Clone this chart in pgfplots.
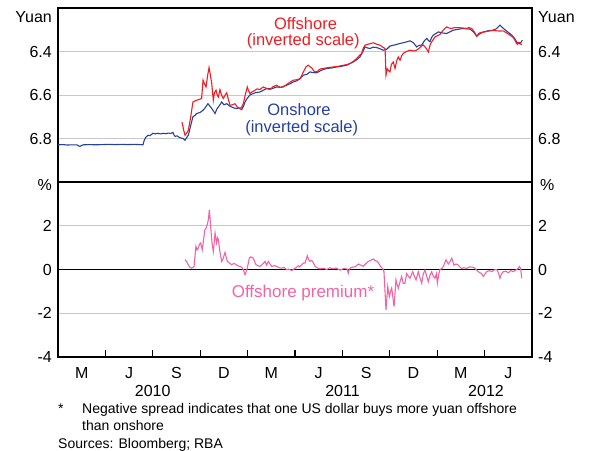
\documentclass[border=0pt]{standalone}
\usepackage{fontspec}
\setmainfont{Liberation Sans}
\usepackage{pgfplots}
\pgfplotsset{compat=1.18}
\definecolor{offred}{RGB}{238,29,35}
\definecolor{onblue}{RGB}{38,64,160}
\definecolor{prpink}{RGB}{240,100,165}
\definecolor{gridgray}{RGB}{200,200,200}
\newcommand{\tickfont}{\fontsize{16}{18}\selectfont}
\newcommand{\lblfont}{\fontsize{16.5}{19}\selectfont}
\newcommand{\notefont}{\fontsize{14}{16}\selectfont}
\begin{document}
\begin{tikzpicture}[x=1pt,y=1pt]
\path[use as bounding box] (0,0) rectangle (589,450);
\pgfplotsset{
  panel/.style={
    scale only axis, width=474pt, xmin=0, xmax=30,
    axis line style={line width=1.1pt},
    ytick style={draw=none},
    major tick length=0pt,
    yticklabel style={font=\tickfont, anchor=east, inner sep=0pt, xshift=-6pt},
    ymajorgrids, grid style={gridgray, line width=0.9pt},
    clip=false,
  },
  rpanel/.style={
    scale only axis, width=474pt, xmin=0, xmax=30,
    axis x line=none, axis y line*=right,
    axis line style={line width=1.1pt},
    ytick style={draw=none},
    major tick length=0pt,
    yticklabel style={font=\tickfont, anchor=west, inner sep=0pt, xshift=6pt},
  },
}
% ---------------- top panel ----------------
\begin{axis}[panel, at={(58pt,268pt)}, anchor=south west, height=174pt,
  ymin=6.2, ymax=7.0, y dir=reverse,
  ytick={6.4,6.6,6.8}, yticklabels={6.4,6.6,6.8}, xtick=\empty]
\addplot[onblue, line width=1.1pt] coordinates {
(0,6.829) (0.3,6.828) (0.6,6.830) (0.9,6.829) (1.2,6.829) (1.3,6.834) (1.39,6.836) (1.5,6.832) (1.6,6.829)
(2.0,6.828) (2.4,6.829) (2.8,6.828) (3.2,6.827) (3.6,6.828) (4.0,6.827) (4.4,6.828) (4.8,6.827) (5.2,6.828) (5.38,6.829)
(5.45,6.81) (5.55,6.795) (5.7,6.785) (5.82,6.787) (6.01,6.776) (6.15,6.779) (6.3,6.776) (6.5,6.779) (6.65,6.776)
(6.8,6.778) (7,6.775) (7.15,6.777) (7.28,6.772) (7.35,6.785) (7.41,6.79) (7.55,6.788) (7.7,6.796) (7.91,6.80)
(8.04,6.808) (8.15,6.795) (8.25,6.785) (8.4,6.74) (8.54,6.70) (8.65,6.695) (8.78,6.685) (9.0,6.68)
(9.18,6.67) (9.3,6.66) (9.49,6.64) (9.6,6.65) (9.73,6.662) (9.85,6.675) (9.94,6.685) (10.05,6.665) (10.15,6.655)
(10.25,6.645) (10.36,6.632) (10.5,6.645) (10.68,6.64) (10.85,6.65) (10.99,6.655) (11.15,6.66) (11.31,6.662)
(11.45,6.66) (11.63,6.667) (11.75,6.65) (11.84,6.632) (11.98,6.615) (12.15,6.60) (12.3,6.595) (12.47,6.59)
(12.6,6.588) (12.78,6.586) (13.0,6.578) (13.21,6.57) (13.5,6.572) (13.84,6.563) (14.1,6.565) (14.47,6.555)
(14.7,6.548) (14.89,6.54) (15.1,6.535) (15.32,6.525) (15.53,6.509) (15.75,6.505) (15.95,6.494) (16.15,6.497)
(16.37,6.498) (16.7,6.485) (17.01,6.478) (17.3,6.476) (17.64,6.471) (17.95,6.468) (18.27,6.463) (18.5,6.455)
(18.69,6.448) (18.9,6.438) (19.11,6.425) (19.3,6.40) (19.43,6.379) (19.6,6.384) (19.75,6.386) (19.95,6.38)
(20.17,6.382) (20.4,6.388) (20.59,6.394) (20.8,6.39) (21.01,6.375) (21.3,6.37) (21.65,6.363) (21.95,6.358)
(22.28,6.351) (22.5,6.36) (22.7,6.379) (22.85,6.372) (23.02,6.37) (23.2,6.35) (23.34,6.34) (23.45,6.35)
(23.54,6.355) (23.65,6.335) (23.75,6.325) (23.9,6.318) (24.07,6.31) (24.35,6.315) (24.6,6.317) (24.8,6.31)
(25.02,6.302) (25.3,6.298) (25.65,6.294) (25.85,6.296) (26.08,6.297) (26.3,6.31) (26.5,6.33) (26.7,6.318)
(26.92,6.31) (27.2,6.305) (27.55,6.302) (27.75,6.295) (27.97,6.279) (28.1,6.288) (28.29,6.30) (28.5,6.312)
(28.72,6.325) (28.9,6.34) (29.03,6.356) (29.15,6.362) (29.24,6.365) (29.39,6.348)
};
\addplot[offred, line width=1.1pt] coordinates {
(7.85,6.724) (7.95,6.76) (8.04,6.785) (8.15,6.775) (8.25,6.762) (8.4,6.70) (8.54,6.632) (8.65,6.628) (8.78,6.624)
(8.95,6.62) (9.09,6.616) (9.18,6.532) (9.28,6.55) (9.37,6.563) (9.47,6.51) (9.56,6.474) (9.65,6.51) (9.73,6.547)
(9.83,6.624) (9.9,6.59) (10.0,6.578) (10.08,6.60) (10.15,6.609) (10.25,6.575) (10.35,6.60) (10.46,6.616)
(10.58,6.60) (10.68,6.59) (10.8,6.625) (10.89,6.647) (11.05,6.645) (11.2,6.64) (11.35,6.655) (11.52,6.662)
(11.63,6.655) (11.73,6.64) (11.85,6.60) (11.98,6.563) (12.06,6.58) (12.15,6.593) (12.3,6.585) (12.47,6.578)
(12.6,6.572) (12.78,6.575) (12.99,6.563) (13.2,6.57) (13.42,6.575) (13.6,6.562) (13.84,6.555) (14.05,6.565)
(14.26,6.563) (14.6,6.545) (14.89,6.532) (15.1,6.53) (15.32,6.525) (15.53,6.494) (15.7,6.47) (15.84,6.463)
(15.95,6.47) (16.06,6.475) (16.2,6.49) (16.37,6.494) (16.6,6.48) (16.79,6.478) (17.1,6.474) (17.42,6.471)
(17.75,6.468) (18.06,6.463) (18.3,6.46) (18.48,6.455) (18.7,6.445) (18.91,6.432) (19.05,6.42) (19.22,6.409)
(19.32,6.385) (19.43,6.371) (19.7,6.365) (19.96,6.36) (20.15,6.366) (20.38,6.371) (20.55,6.38) (20.7,6.386)
(20.76,6.509) (20.84,6.48) (20.91,6.487) (21.01,6.494) (21.1,6.46) (21.22,6.448) (21.33,6.478) (21.45,6.44)
(21.54,6.425) (21.65,6.44) (21.75,6.42) (21.85,6.409) (22.05,6.40) (22.28,6.394) (22.5,6.398) (22.7,6.394)
(22.91,6.382) (23.0,6.375) (23.12,6.37) (23.3,6.385) (23.44,6.402) (23.55,6.37) (23.65,6.356) (23.75,6.345)
(23.86,6.333) (24.0,6.328) (24.18,6.321) (24.4,6.30) (24.6,6.287) (24.75,6.292) (24.92,6.294) (25.1,6.29)
(25.34,6.29) (25.6,6.292) (25.87,6.294) (26.0,6.29) (26.18,6.294) (26.35,6.31) (26.5,6.33) (26.6,6.32)
(26.71,6.314) (27.0,6.31) (27.34,6.305) (27.55,6.303) (27.77,6.305) (27.97,6.306) (28.18,6.305) (28.4,6.315)
(28.61,6.325) (28.8,6.335) (28.92,6.348) (29.0,6.36) (29.07,6.367) (29.15,6.358) (29.24,6.36) (29.35,6.37)
};
\end{axis}
\begin{axis}[rpanel, at={(58pt,268pt)}, anchor=south west, height=174pt,
  ymin=6.2, ymax=7.0, y dir=reverse,
  ytick={6.4,6.6,6.8}, yticklabels={6.4,6.6,6.8}]
\end{axis}
% ---------------- bottom panel ----------------
\begin{axis}[panel, at={(58pt,93pt)}, anchor=south west, height=175pt,
  ymin=-4, ymax=4,
  ytick={-4,-2,0,2}, yticklabels={-4,-2,0,2},
  extra y ticks={0}, extra y tick labels={},
  extra y tick style={grid style={black, line width=1.1pt}},
  xtick={0,3,...,30}, x tick label as interval,
  xticklabels={M,J,S,D,M,J,S,D,M,J},
  xtick pos=bottom, xtick style={draw=black, line width=1.1pt},
  tick align=inside, xmajorgrids=false,
  x tick style={/pgfplots/major tick length=7pt},
  xticklabel style={font=\tickfont, anchor=base, inner sep=0pt, yshift=-22pt}]
\addplot[prpink, line width=1.1pt] coordinates {
(8.04,0.45) (8.15,0.35) (8.25,0.2) (8.35,0.1) (8.46,0.06) (8.61,0.14) (8.73,1.06) (8.8,0.9) (8.88,0.98) (8.95,1.15)
(9.03,1.21) (9.13,0.9) (9.22,1.4) (9.3,1.83) (9.38,1.9) (9.45,2.06) (9.52,2.3) (9.58,2.74) (9.66,1.98) (9.75,1.2)
(9.83,0.83) (9.88,1.2) (9.94,1.67) (10.04,1.21) (10.1,1.45) (10.15,1.37) (10.25,0.8) (10.36,0.37) (10.45,0.5)
(10.57,0.78) (10.65,0.55) (10.72,0.37) (10.85,0.3) (10.99,0.22) (11.15,0.28) (11.31,0.2) (11.45,0.15) (11.63,0.11)
(11.75,-0.05) (11.84,-0.24) (11.98,0.06) (12.11,0.52) (12.2,0.58) (12.36,0.52) (12.45,0.35) (12.53,0.22)
(12.65,0.18) (12.78,0.14) (12.95,0.25) (13.1,0.37) (13.2,0.2) (13.31,0.37) (13.42,0.25) (13.53,0.14) (13.7,0.18)
(13.84,0.14) (14.0,0.08) (14.16,0.06) (14.3,0.1) (14.47,-0.01) (14.6,0.02) (14.79,-0.05) (15.0,0.05) (15.21,0.17)
(15.3,0.12) (15.42,0.22) (15.53,0.3) (15.63,0.29) (15.78,0.63) (15.87,0.45) (15.95,0.37) (16.05,0.42) (16.12,0.37)
(16.27,0.14) (16.4,0.08) (16.58,0.03) (16.8,0.06) (17.01,0.0) (17.2,0.08) (17.42,0.03) (17.6,0.07) (17.85,-0.03)
(18.1,0.05) (18.3,0.02) (18.37,-0.17) (18.45,0.05) (18.59,0.1) (18.8,0.12) (19.01,0.25) (19.15,0.2) (19.32,0.15)
(19.5,0.28) (19.64,0.37) (19.8,0.42) (19.96,0.48) (20.1,0.4) (20.21,0.37) (20.32,0.25) (20.42,0.14) (20.55,0.02)
(20.63,-0.09) (20.76,-1.85) (20.87,-0.78) (20.97,-1.24) (21.05,-1.0) (21.12,-0.85) (21.2,-1.3) (21.27,-1.7)
(21.39,-0.47) (21.47,-0.7) (21.54,-0.86) (21.65,-0.55) (21.75,-0.32) (21.85,-0.63) (21.96,-0.63) (22.07,-0.19)
(22.17,-0.3) (22.28,-0.4) (22.36,-0.25) (22.45,-0.1) (22.55,-0.3) (22.66,-0.48) (22.8,-0.1) (22.9,-0.35)
(23.02,-0.63) (23.12,-0.2) (23.23,-0.03) (23.33,-0.3) (23.44,-0.56) (23.55,-0.25) (23.65,-0.1) (23.75,-0.3)
(23.86,-0.4) (23.95,-0.2) (24.01,-0.63) (24.1,-0.2) (24.18,0.0) (24.3,0.05) (24.39,0.14) (24.48,0.3) (24.56,0.45)
(24.63,0.35) (24.7,0.25) (24.8,0.35) (24.92,0.52) (25.0,0.35) (25.06,0.2) (25.2,0.25) (25.34,0.2) (25.45,0.1)
(25.55,0.05) (25.7,0.08) (25.87,0.05) (26.05,0.12) (26.28,0.1) (26.4,0.05) (26.5,-0.03) (26.6,-0.1) (26.71,-0.15)
(26.82,-0.2) (26.92,-0.32) (27.03,-0.2) (27.13,-0.1) (27.3,-0.05) (27.45,-0.1) (27.6,-0.02) (27.77,0.0)
(27.88,-0.15) (27.97,-0.4) (28.07,-0.2) (28.18,-0.1) (28.35,-0.08) (28.5,-0.15) (28.65,-0.05) (28.82,-0.1)
(28.92,-0.05) (29.03,0.0) (29.12,0.05) (29.2,0.14) (29.28,0.05) (29.35,-0.4)
};
\end{axis}
\begin{axis}[rpanel, at={(58pt,93pt)}, anchor=south west, height=175pt,
  ymin=-4, ymax=4,
  ytick={-4,-2,0,2}, yticklabels={-4,-2,0,2}]
\end{axis}
% ---------------- labels ----------------
\node[font=\tickfont, anchor=east, inner sep=0pt] at (52,433) {Yuan};
\node[font=\tickfont, anchor=west, inner sep=0pt] at (538,433) {Yuan};
\node[font=\tickfont, anchor=east, inner sep=0pt] at (52,265) {\%};
\node[font=\tickfont, anchor=west, inner sep=0pt] at (540,265) {\%};
\node[font=\lblfont, text=offred, inner sep=0pt] at (305.5,426.7) {Offshore};
\node[font=\lblfont, text=offred, inner sep=0pt] at (303.3,408.3) {(inverted scale)};
\node[font=\lblfont, text=onblue, inner sep=0pt] at (299,340) {Onshore};
\node[font=\lblfont, text=onblue, inner sep=0pt] at (301.7,321.7) {(inverted scale)};
\node[font=\fontsize{17}{19}\selectfont, text=prpink, inner sep=0pt] at (303,157) {Offshore premium*};
\node[font=\tickfont, anchor=base, inner sep=0pt] at (152.7,53.3) {2010};
\node[font=\tickfont, anchor=base, inner sep=0pt] at (342.5,53.3) {2011};
\node[font=\tickfont, anchor=base, inner sep=0pt] at (486,53.3) {2012};
\node[font=\notefont, anchor=base west, inner sep=0pt] at (58,36.7) {*};
\node[font=\notefont, anchor=base west, inner sep=0pt] at (82,36.7) {Negative spread indicates that one US dollar buys more yuan offshore};
\node[font=\notefont, anchor=base west, inner sep=0pt] at (82,19.3) {than onshore};
\node[font=\notefont, anchor=base west, inner sep=0pt] at (58,1.7) {Sources: Bloomberg; RBA};
\end{tikzpicture}
\end{document}
